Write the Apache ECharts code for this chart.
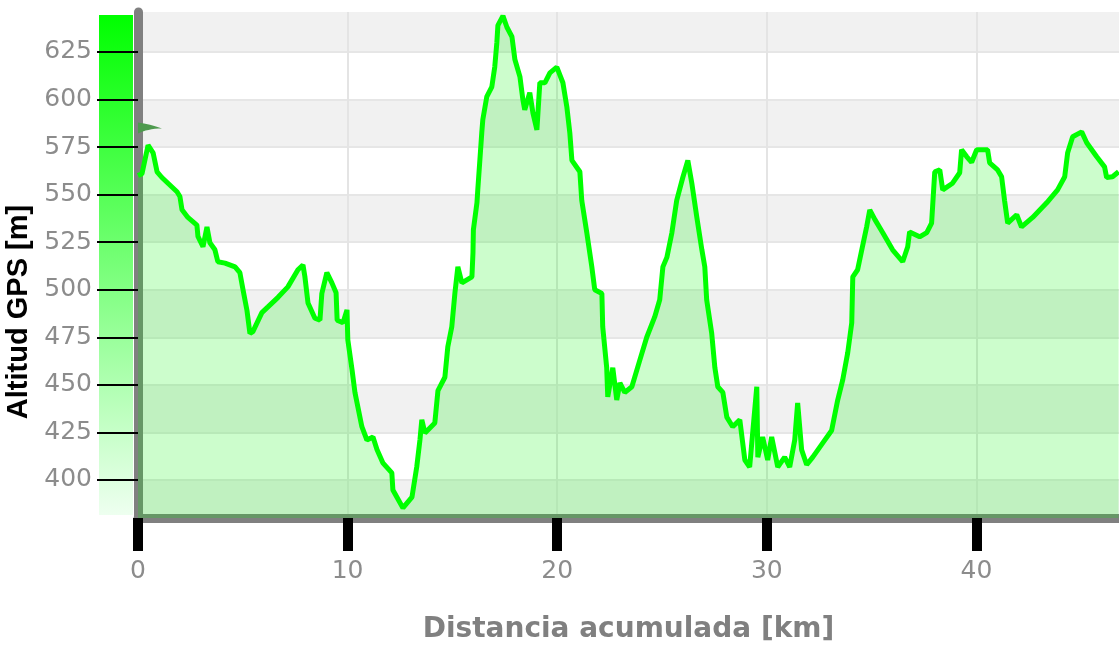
<!DOCTYPE html>
<html><head><meta charset="utf-8">
<script src="https://cdn.jsdelivr.net/npm/echarts@6/dist/echarts.min.js"></script>
<style>html,body{margin:0;padding:0;background:#fff}#c{width:1119px;height:646px}</style>
</head><body><div id="c"></div>
<script>
// Distance (km) and GPS altitude (m)
const distanceKm = [
  0, 0.19, 0.48, 0.72, 0.91, 1.14, 1.86, 2.0, 2.1, 2.38,
  2.81, 2.86, 3.1, 3.29, 3.43, 3.67, 3.81, 4.15, 4.63, 4.86,
  5.01, 5.2, 5.34, 5.48, 5.91, 6.2, 6.68, 7.15, 7.63, 7.87,
  7.96, 8.11, 8.44, 8.68, 8.77, 9.01, 9.25, 9.45, 9.5, 9.78,
  9.97, 10.01, 10.21, 10.35, 10.68, 10.92, 11.21, 11.4, 11.68, 12.11,
  12.16, 12.64, 13.07, 13.3, 13.45, 13.54, 13.69, 14.16, 14.31, 14.64,
  14.78, 14.97, 15.12, 15.26, 15.45, 15.93, 15.98, 16.0, 16.17, 16.21,
  16.31, 16.4, 16.45, 16.64, 16.88, 17.02, 17.12, 17.17, 17.41, 17.6,
  17.84, 17.98, 18.22, 18.36, 18.45, 18.69, 18.84, 19.03, 19.17, 19.41,
  19.65, 19.98, 20.27, 20.46, 20.6, 20.7, 21.08, 21.17, 21.41, 21.65,
  21.79, 22.13, 22.17, 22.36, 22.41, 22.65, 22.84, 22.99, 23.22, 23.56,
  23.94, 24.27, 24.65, 24.89, 25.04, 25.23, 25.47, 25.7, 25.99, 26.23,
  26.42, 26.66, 26.9, 27.04, 27.13, 27.37, 27.52, 27.66, 27.9, 28.09,
  28.37, 28.71, 28.95, 29.18, 29.52, 29.57, 29.8, 30.04, 30.23, 30.52,
  30.85, 31.09, 31.33, 31.47, 31.66, 31.9, 32.19, 32.67, 33.09, 33.38,
  33.62, 33.86, 34.05, 34.1, 34.33, 34.53, 34.76, 34.91, 35.15, 35.53,
  36.0, 36.48, 36.72, 36.81, 37.29, 37.63, 37.86, 38.01, 38.25, 38.39,
  38.86, 39.2, 39.29, 39.53, 39.77, 40.01, 40.53, 40.63, 41.01, 41.2,
  41.34, 41.49, 41.92, 42.15, 42.68, 43.35, 43.87, 44.21, 44.35, 44.59,
  45.02, 45.26, 45.73, 46.11, 46.21, 46.49, 46.78
];
const altitudeM = [
  560, 561, 576, 572, 562, 559, 551.5, 549, 542, 538,
  534, 528, 522.6, 533, 524.7, 521, 514.7, 514, 512, 509,
  500, 489, 477, 478, 488, 491, 496, 501.5, 510.5, 513,
  507, 493, 485, 484, 498, 509, 503.6, 498.4, 484, 482.6,
  489.4, 473.6, 458, 446, 428, 421, 422.6, 416, 409, 403.7,
  394.7, 385.3, 391, 407, 421, 431.6, 424.7, 430, 447, 454,
  470, 480.5, 498.4, 512, 503.6, 506.8, 519.4, 531.5, 545.7, 552.5,
  568.3, 582.5, 589.4, 601.5, 606.7, 617.2, 630, 639, 644, 638,
  633, 621, 612, 600, 594.6, 603.6, 593, 584, 608.8, 608.8,
  614, 617, 608.8, 596, 582.5, 568, 562, 547, 530, 512,
  500, 498, 480.5, 459, 443.7, 459, 442, 451, 446, 449,
  463, 475, 485.7, 494.7, 512, 517, 530, 547, 559, 568,
  556, 538, 521, 512, 494.7, 477, 459, 449, 446, 433,
  428, 431.6, 410.5, 406.8, 449, 412, 422.6, 410.5, 422.6, 406.8,
  412, 406.8, 421, 440.5, 415.8, 408, 412, 419.5, 426, 442,
  452.6, 467, 482.6, 506.8, 510.5, 521, 533, 542, 537, 530,
  521, 514.7, 522.6, 530.4, 527.8, 530, 535, 562, 563, 552.5,
  556, 561.5, 573.6, 570, 567, 573.6, 573.6, 566.7, 563, 559.4,
  547, 535, 539.4, 533, 538, 545.7, 552.5, 559.4, 572, 580.4,
  583, 577.3, 570, 564.6, 559, 559.4, 562
];
const xTicks = [0, 10, 20, 30, 40];
const yTicks = [400, 425, 450, 475, 500, 525, 550, 575, 600, 625];
const xRange = [0, 46.8];
const yRange = [380, 646];
const startFlag = [0, 585];

const profile = distanceKm.map((d, i) => [d, altitudeM[i]]);

const chart = echarts.init(document.getElementById('c'), null, {renderer: 'canvas'});
const labelColor = '#8c8c8c';
chart.setOption({
  animation: false,
  backgroundColor: '#ffffff',
  grid: {left: 138, right: 0, top: 12, bottom: 128, containLabel: false, outerBoundsMode: 'none',
         show: true, backgroundColor: '#f1f1f1', borderWidth: 0},
  graphic: [{
    type: 'rect', left: 99, top: 15, z: -10,
    shape: {width: 34, height: 500},
    style: {fill: new echarts.graphic.LinearGradient(0, 0, 0, 1, [
      {offset: 0, color: '#00ff00'}, {offset: 1, color: '#eefff0'}
    ])}
  }],
  xAxis: {
    type: 'value', min: xRange[0], max: xRange[1], interval: 10,
    name: 'Distancia acumulada [km]', nameLocation: 'middle', nameGap: 98,
    nameTextStyle: {color: '#808080', fontSize: 28, fontWeight: 'bold', fontFamily: 'DejaVu Sans'},
    axisLine: {show: true, onZero: false, lineStyle: {color: '#808080', width: 9}},
    axisTick: {show: true, length: 33, customValues: xTicks, lineStyle: {color: '#000', width: 10}},
    axisLabel: {customValues: xTicks, margin: 41, color: labelColor, fontSize: 25, fontFamily: 'DejaVu Sans'},
    splitLine: {show: true, lineStyle: {color: '#e4e4e4', width: 2}}
  },
  yAxis: {
    type: 'value', min: yRange[0], max: yRange[1], minInterval: 25, maxInterval: 25, splitNumber: 10,
    name: 'Altitud GPS [m]', nameLocation: 'middle', nameGap: 74, nameRotate: 90,
    nameTextStyle: {color: '#000', fontSize: 29, fontWeight: 'bold', fontFamily: 'Liberation Sans', padding: [0, 94, 0, 0]},
    axisLine: {show: true, lineStyle: {color: '#808080', width: 9}},
    axisTick: {show: true, length: 41, customValues: yTicks, lineStyle: {color: '#000', width: 2}},
    axisLabel: {customValues: yTicks, margin: 46, color: labelColor, fontSize: 25, fontFamily: 'DejaVu Sans'},
    splitLine: {show: true, lineStyle: {color: '#e6e6e6', width: 2}},
    splitArea: {show: true, areaStyle: {color: ['#ffffff', '#f1f1f1']}}
  },
  series: [{
    type: 'line', data: profile, showSymbol: false, symbol: 'none', smooth: false,
    lineStyle: {color: '#00ff00', width: 5},
    areaStyle: {color: 'rgb(0,245,0)', opacity: 0.2, origin: 'start'},
    markPoint: {
      silent: true,
      data: [{
        coord: startFlag,
        symbol: 'path://M0,0 L0,11 C6,8 14,6 24,6 C16,3 8,1 0,0 Z',
        symbolSize: [24, 11], symbolOffset: [12, 0],
        itemStyle: {color: '#4e9a4e'}, label: {show: false}
      }]
    }
  }]
});
</script>
</body></html>
